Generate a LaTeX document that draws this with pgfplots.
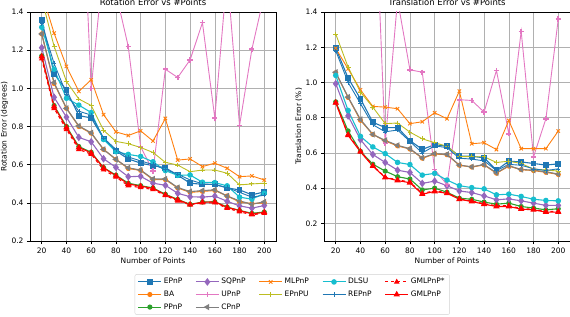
\documentclass[border=0pt]{standalone}
\usepackage{pgfplots}
\pgfplotsset{compat=1.18}
\usepackage{pgfplotstable}
\usepackage{fontspec}
\setmainfont{DejaVu Sans}

\definecolor{tblue}{HTML}{1F77B4}
\definecolor{torange}{HTML}{FF7F0E}
\definecolor{tgreen}{HTML}{2CA02C}
\definecolor{tpurple}{HTML}{9467BD}
\definecolor{tpink}{HTML}{E377C2}
\definecolor{tgray}{HTML}{7F7F7F}
\definecolor{tolive}{HTML}{BCBD22}
\definecolor{tcyan}{HTML}{17BECF}
\definecolor{tred}{HTML}{FF0000}
\definecolor{gridc}{HTML}{B0B0B0}

\pgfplotstableread{
x   EPnP  BA    PPnP  SQPnP UPnP  CPnP  MLPnP EPnPU DLSU  REPnP GMLs  GML
20  1.360 1.285 1.170 1.213 3.000 1.285 1.500 1.470 1.320 1.340 1.155 1.167
30  1.075 1.025 0.910 0.953 2.800 1.030 1.289 1.220 1.100 1.130 0.895 0.905
40  0.990 0.895 0.800 0.849 2.600 0.895 1.115 1.036 0.948 0.970 0.785 0.795
50  0.857 0.800 0.695 0.743 2.460 0.803 0.984 0.944 0.912 0.880 0.680 0.690
60  0.845 0.765 0.665 0.720 1.000 0.767 1.045 0.910 0.873 0.860 0.655 0.662
70  0.737 0.680 0.585 0.631 1.650 0.680 0.862 0.780 0.732 0.740 0.573 0.583
80  0.672 0.628 0.545 0.586 1.500 0.628 0.772 0.722 0.668 0.680 0.535 0.542
90  0.630 0.580 0.503 0.537 1.219 0.583 0.753 0.710 0.654 0.640 0.490 0.499
100 0.608 0.570 0.490 0.539 0.694 0.572 0.777 0.690 0.643 0.620 0.480 0.487
110 0.595 0.522 0.478 0.503 0.567 0.525 0.724 0.664 0.615 0.600 0.470 0.476
120 0.584 0.522 0.445 0.492 1.100 0.525 0.842 0.612 0.569 0.575 0.438 0.442
130 0.545 0.478 0.418 0.450 1.057 0.480 0.624 0.598 0.544 0.550 0.410 0.416
140 0.503 0.455 0.392 0.432 1.149 0.459 0.630 0.563 0.546 0.520 0.390 0.391
150 0.497 0.460 0.404 0.430 1.344 0.464 0.590 0.572 0.508 0.500 0.400 0.403
160 0.497 0.465 0.406 0.435 0.845 0.468 0.608 0.572 0.506 0.495 0.400 0.405
170 0.478 0.436 0.378 0.408 1.600 0.436 0.581 0.555 0.489 0.480 0.372 0.376
180 0.468 0.405 0.360 0.384 0.805 0.410 0.537 0.494 0.430 0.455 0.353 0.360
190 0.442 0.396 0.345 0.372 1.205 0.393 0.541 0.499 0.419 0.430 0.338 0.342
200 0.457 0.400 0.352 0.386 1.490 0.405 0.520 0.503 0.450 0.440 0.345 0.350
}\rot

\pgfplotstableread{
x   EPnP  BA    PPnP  SQPnP UPnP  CPnP  MLPnP EPnPU DLSU  REPnP GMLs  GML
20  1.195 1.055 0.890 0.993 3.000 1.058 1.194 1.275 1.040 1.180 0.885 0.885
30  1.025 0.915 0.725 0.810 2.800 0.917 1.077 1.087 0.841 1.000 0.705 0.700
40  0.907 0.785 0.609 0.675 2.600 0.790 0.958 0.945 0.694 0.880 0.610 0.606
50  0.774 0.705 0.536 0.591 2.380 0.705 0.864 0.860 0.634 0.760 0.528 0.525
60  0.744 0.668 0.497 0.546 0.655 0.671 0.860 0.766 0.596 0.720 0.462 0.460
70  0.744 0.640 0.465 0.502 1.470 0.643 0.851 0.770 0.546 0.730 0.447 0.443
80  0.670 0.622 0.452 0.489 1.072 0.624 0.766 0.718 0.534 0.665 0.435 0.431
90  0.620 0.570 0.390 0.427 1.058 0.572 0.777 0.680 0.474 0.600 0.370 0.366
100 0.647 0.594 0.400 0.440 0.505 0.596 0.828 0.658 0.484 0.640 0.385 0.381
110 0.638 0.590 0.377 0.414 0.420 0.592 0.794 0.638 0.446 0.630 0.374 0.371
120 0.581 0.530 0.343 0.384 0.902 0.531 0.951 0.580 0.414 0.570 0.340 0.337
130 0.581 0.520 0.337 0.375 0.898 0.521 0.652 0.578 0.403 0.565 0.327 0.324
140 0.572 0.532 0.321 0.356 0.832 0.534 0.658 0.578 0.396 0.555 0.312 0.309
150 0.502 0.485 0.309 0.334 1.068 0.487 0.619 0.546 0.362 0.500 0.300 0.296
160 0.553 0.525 0.315 0.339 0.709 0.527 0.784 0.553 0.366 0.535 0.300 0.296
170 0.549 0.505 0.296 0.328 1.290 0.506 0.624 0.540 0.353 0.530 0.285 0.281
180 0.540 0.500 0.287 0.315 0.578 0.502 0.624 0.508 0.337 0.510 0.280 0.277
190 0.531 0.490 0.277 0.302 0.794 0.493 0.624 0.503 0.330 0.500 0.268 0.264
200 0.538 0.478 0.283 0.302 1.360 0.480 0.724 0.497 0.328 0.510 0.268 0.264
}\trans

\pgfplotsset{
  base/.style={
    scale only axis, width=246pt, height=229pt,
    xmin=10.5, xmax=209.5,
    xtick={20,40,60,80,100,120,140,160,180,200},
    ytick={0.2,0.4,0.6,0.8,1.0,1.2,1.4},
    grid=major, grid style={color=gridc, line width=0.6pt},
    tick align=outside, tick pos=left,
    major tick length=3pt,
    tick style={black, line width=0.6pt},
    axis line style={line width=0.7pt},
    tick label style={font=\fontsize{7.5}{8}\selectfont},
    /pgf/number format/assume math mode=true,
    yticklabel style={/pgf/number format/fixed, /pgf/number format/precision=1, /pgf/number format/fixed zerofill},
    label style={font=\fontsize{7.5}{8}\selectfont},
    xlabel style={yshift=2pt},
    ylabel style={yshift=-3.5pt},
    title style={font=\fontsize{8.5}{9}\selectfont, yshift=-3pt},
    legend image code/.code={\draw[mark repeat=2,mark phase=2] plot coordinates {(0pt,0pt) (11.5pt,0pt) (23pt,0pt)};},
  },
  sepnp/.style={color=tblue, line width=1.1pt, mark=square*, mark size=2.4pt},
  sba/.style={color=torange, line width=1.1pt, mark=*, mark size=2pt},
  sppnp/.style={color=tgreen, line width=1.1pt, mark=*, mark size=2pt},
  ssqpnp/.style={color=tpurple, line width=1.1pt, mark=diamond*, mark size=3pt},
  supnp/.style={color=tpink, line width=0.9pt, mark=+, mark size=2.6pt, mark options={line width=1.6pt}},
  scpnp/.style={color=tgray, line width=1.1pt, mark=triangle*, mark size=2.6pt, mark options={rotate=90}},
  smlpnp/.style={color=torange, line width=0.9pt, mark=x, mark size=2.4pt},
  sepnpu/.style={color=tolive, line width=0.9pt, mark=+, mark size=2.4pt},
  sdlsu/.style={color=tcyan, line width=1.1pt, mark=*, mark size=2.2pt},
  srepnp/.style={color=tblue, line width=0.9pt, mark=+, mark size=2.2pt, mark options={line width=0.5pt}},
  sgmls/.style={color=tred, line width=1.1pt, dashed, mark=triangle*, mark size=2.2pt, mark options={solid}},
  sgml/.style={color=tred, line width=1.1pt, mark=triangle*, mark size=2.6pt},
}

\begin{document}
\begin{tikzpicture}
\path[use as bounding box] (-30pt,-75pt) rectangle (540pt,241pt);
\begin{axis}[base,
  ymin=0.2, ymax=1.4,
  title={Rotation Error vs \#Points},
  xlabel={Number of Points},
  ylabel={Rotation Error (degrees)},
  legend columns=5,
  legend style={at={(axis description cs:1.066,-0.145)}, anchor=north,
    font=\fontsize{7.5}{8}\selectfont, draw=gray!35, rounded corners=2pt,
    row sep=1.5pt,
    /tikz/every even column/.append style={column sep=11pt}},
  legend cell align=left,
]
\addplot[sepnp, forget plot] table[x=x,y=EPnP]{\rot};
\addplot[sba, forget plot] table[x=x,y=BA]{\rot};
\addplot[sppnp, forget plot] table[x=x,y=PPnP]{\rot};
\addplot[ssqpnp, forget plot] table[x=x,y=SQPnP]{\rot};
\addplot[supnp, forget plot] table[x=x,y=UPnP]{\rot};
\addplot[scpnp, forget plot] table[x=x,y=CPnP]{\rot};
\addplot[smlpnp, forget plot] table[x=x,y=MLPnP]{\rot};
\addplot[sepnpu, forget plot] table[x=x,y=EPnPU]{\rot};
\addplot[sdlsu, forget plot] table[x=x,y=DLSU]{\rot};
\addplot[srepnp, forget plot] table[x=x,y=REPnP]{\rot};
\addplot[sgmls, forget plot] table[x=x,y=GMLs]{\rot};
\addplot[sgml, forget plot] table[x=x,y=GML]{\rot};
\addlegendimage{sepnp}\addlegendentry{EPnP}
\addlegendimage{ssqpnp}\addlegendentry{SQPnP}
\addlegendimage{smlpnp}\addlegendentry{MLPnP}
\addlegendimage{sdlsu}\addlegendentry{DLSU}
\addlegendimage{sgmls}\addlegendentry{GMLPnP*}
\addlegendimage{sba}\addlegendentry{BA}
\addlegendimage{supnp}\addlegendentry{UPnP}
\addlegendimage{sepnpu}\addlegendentry{EPnPU}
\addlegendimage{srepnp}\addlegendentry{REPnP}
\addlegendimage{sgml}\addlegendentry{GMLPnP}
\addlegendimage{sppnp}\addlegendentry{PPnP}
\addlegendimage{scpnp}\addlegendentry{CPnP}
\end{axis}
\begin{axis}[base, at={(294pt,0pt)},
  ymin=0.1, ymax=1.4,
  title={Translation Error vs \#Points},
  xlabel={Number of Points},
  ylabel={Translation Error (\%)},
]
\addplot[sepnp] table[x=x,y=EPnP]{\trans};
\addplot[sba] table[x=x,y=BA]{\trans};
\addplot[sppnp] table[x=x,y=PPnP]{\trans};
\addplot[ssqpnp] table[x=x,y=SQPnP]{\trans};
\addplot[supnp] table[x=x,y=UPnP]{\trans};
\addplot[scpnp] table[x=x,y=CPnP]{\trans};
\addplot[smlpnp] table[x=x,y=MLPnP]{\trans};
\addplot[sepnpu] table[x=x,y=EPnPU]{\trans};
\addplot[sdlsu] table[x=x,y=DLSU]{\trans};
\addplot[srepnp] table[x=x,y=REPnP]{\trans};
\addplot[sgmls] table[x=x,y=GMLs]{\trans};
\addplot[sgml] table[x=x,y=GML]{\trans};
\end{axis}
\end{tikzpicture}
\end{document}
